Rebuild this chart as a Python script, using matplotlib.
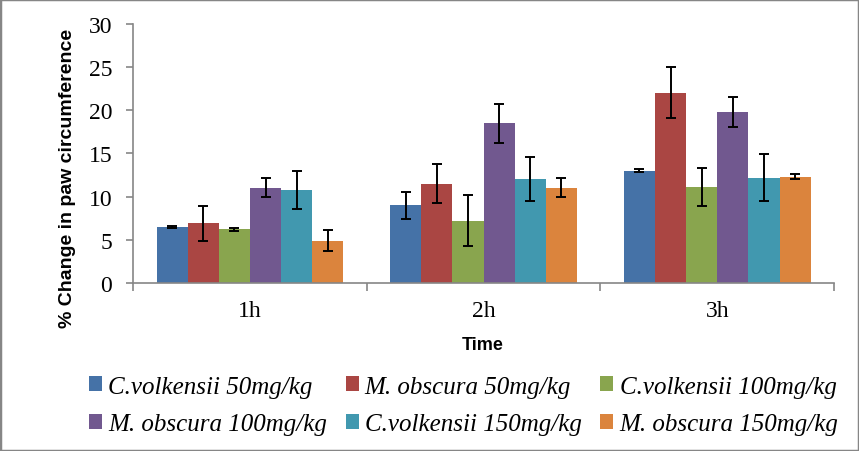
import matplotlib
matplotlib.use("Agg")
import matplotlib.pyplot as plt
import numpy as np
from matplotlib.patches import Rectangle

groups = ["1h", "2h", "3h"]
series = ["C.volkensii 50mg/kg", "M. obscura 50mg/kg", "C.volkensii 100mg/kg",
          "M. obscura 100mg/kg", "C.volkensii 150mg/kg", "M. obscura 150mg/kg"]
colors = ["#4572A7", "#AA4643", "#89A54E", "#71588F", "#4198AF", "#DB843D"]

# values per series, for 1h / 2h / 3h
means = [
    [6.5, 9.0, 13.0],
    [6.9, 11.5, 22.0],
    [6.2, 7.2, 11.1],
    [11.0, 18.5, 19.8],
    [10.8, 12.0, 12.2],
    [4.9, 11.0, 12.3],
]
errs = [
    [0.1, 1.55, 0.17],
    [2.0, 2.3, 2.95],
    [0.15, 2.95, 2.2],
    [1.1, 2.25, 1.7],
    [2.2, 2.55, 2.7],
    [1.25, 1.1, 0.3],
]

fig = plt.figure(figsize=(8.59, 4.52), dpi=100)
ax = fig.add_axes([0.155, 0.372, 0.816, 0.573])

n = len(series)
w = 0.8 / n
x = np.arange(len(groups))
for i in range(n):
    ax.bar(x - 0.4 + w * (i + 0.5), means[i], w, color=colors[i], label=series[i],
           yerr=errs[i], capsize=3.8, ecolor="black",
           error_kw={"elinewidth": 1.4, "capthick": 1.4})

ax.set_xlim(-0.5, 2.5)
ax.set_ylim(0, 30)
ax.set_yticks(range(0, 31, 5))
ax.set_xticks(x)
ax.set_xticklabels(groups, family="Liberation Serif", fontsize=17)
for t in ax.get_yticklabels():
    t.set_family("Liberation Serif")
    t.set_fontsize(17)
ax.set_xticks([-0.5, 0.5, 1.5, 2.5], minor=True)
ax.tick_params(axis="x", which="major", length=0, pad=12)
ax.tick_params(axis="x", which="minor", length=6, color="#868686", width=1.2)
ax.tick_params(axis="y", length=5, color="#868686", width=1.2, pad=10)
for s in ["top", "right"]:
    ax.spines[s].set_visible(False)
for s in ["left", "bottom"]:
    ax.spines[s].set_color("#868686")
    ax.spines[s].set_linewidth(1.2)

fig.text(68 / 859, 1 - 178.5 / 452, "% Change in paw circumference",
         family="Liberation Sans", fontweight="bold", fontsize=14,
         rotation=90, ha="center", va="center")
fig.text(483 / 859, 1 - 346 / 452, "Time", family="Liberation Sans",
         fontweight="bold", fontsize=13, ha="center", va="center")

handles, labels = ax.get_legend_handles_labels()
order = [0, 3, 1, 4, 2, 5]
fig.legend([handles[k] for k in order], [labels[k] for k in order],
           loc="upper left", bbox_to_anchor=(0.077, 0.2166), ncol=3, frameon=False,
           handlelength=0.52, handleheight=0.52, handletextpad=0.25,
           columnspacing=0.75, labelspacing=0.62,
           prop={"family": "Liberation Serif", "style": "italic", "size": 18})

fig.patches.append(Rectangle((0, 0), 1, 1, transform=fig.transFigure,
                             fill=False, edgecolor="#868686", linewidth=2.5))

plt.savefig("out.png", dpi=100)
